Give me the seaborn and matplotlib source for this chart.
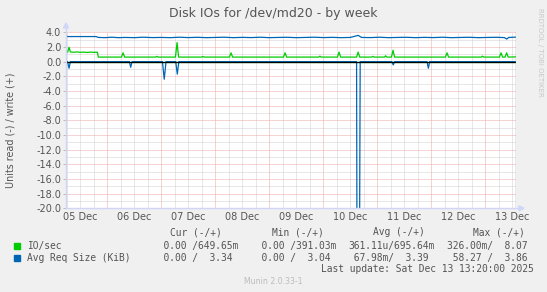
import numpy as np
import matplotlib
matplotlib.use("Agg")
import matplotlib.pyplot as plt
import matplotlib.patches as mpatches
from matplotlib.lines import Line2D
import seaborn as sns

# ---------------- data (hours since 05 Dec 00:00) ----------------
t_start, t_end = 5.64, 205.66
day_labels = ["05 Dec", "06 Dec", "07 Dec", "08 Dec", "09 Dec",
              "10 Dec", "11 Dec", "12 Dec", "13 Dec"]
y_ticks = [4, 2, 0, -2, -4, -6, -8, -10, -12, -14, -16, -18, -20]

# IO/sec write (+)
io_write_t = [5.64, 6.4, 6.98, 7.6, 9, 10.5, 12, 13.5, 15, 16.5, 18, 19.6, 20.0,
              30.3, 31, 31.7, 45.5, 46, 46.5, 54.3, 55, 55.7, 66, 66.5, 67,
              78.3, 79, 79.7, 102.3, 103, 103.7, 118, 118.5, 119,
              126.3, 127, 127.7, 134.8, 135.5, 136.2, 141.5, 142, 142.5,
              147.2, 147.7, 148.2, 150.3, 151, 151.7, 174.3, 175, 175.7,
              190.3, 190.8, 191.3, 198.3, 199, 199.7, 200.8, 201.5, 202.2, 205.66]
io_write_v = [1.30, 1.30, 1.96, 1.32, 1.28, 1.32, 1.27, 1.30, 1.25, 1.30, 1.27, 1.28, 0.62,
              0.62, 1.20, 0.62, 0.62, 0.72, 0.62, 0.62, 2.60, 0.62, 0.62, 0.70, 0.62,
              0.62, 1.20, 0.62, 0.62, 1.20, 0.62, 0.62, 0.75, 0.62,
              0.62, 1.30, 0.62, 0.62, 1.30, 0.62, 0.62, 0.72, 0.62,
              0.62, 0.80, 0.62, 0.62, 1.55, 0.62, 0.62, 1.20, 0.62,
              0.62, 0.75, 0.62, 0.62, 1.20, 0.62, 0.62, 1.20, 0.62, 0.65]
# IO/sec read (-)
io_read_t = [5.64, 205.66]
io_read_v = [0.0, 0.0]

# Avg Req Size write (+)
size_write_t = [5.64, 19, 20, 23, 26, 29, 32, 36, 40, 44, 48, 52, 56, 60, 64, 68, 72,
                76, 80, 84, 88, 92, 96, 100, 104, 108, 112, 116, 120, 124, 128, 132,
                135.5, 137, 141, 145, 149, 153, 157, 161, 165, 169, 173, 177, 181,
                185, 189, 193, 197, 200.5, 201.5, 202.5, 205.66]
size_write_v = [3.42, 3.42, 3.30, 3.27, 3.33, 3.27, 3.30, 3.27, 3.33, 3.28, 3.30, 3.27,
                3.33, 3.28, 3.32, 3.27, 3.30, 3.33, 3.27, 3.31, 3.28, 3.33, 3.27, 3.30,
                3.32, 3.27, 3.30, 3.33, 3.28, 3.31, 3.27, 3.30, 3.58, 3.30, 3.28, 3.33,
                3.27, 3.30, 3.32, 3.27, 3.31, 3.28, 3.33, 3.27, 3.30, 3.32, 3.27, 3.30,
                3.32, 3.28, 3.08, 3.30, 3.34]
# Avg Req Size read (-)
size_read_t = [5.64, 6.3, 6.98, 7.6, 33.8, 34.4, 35.0, 48.5, 49.3, 50.1, 54.4, 55.1, 55.8,
               134.8, 135.2, 136.0, 136.4, 150.5, 151.1, 151.7, 166.1, 166.7, 167.3, 205.66]
size_read_v = [0, 0, 0.9, 0, 0, 0.77, 0, 0, 2.4, 0, 0, 1.7, 0,
               0, 58.27, 35.0, 0, 0, 0.45, 0, 0, 0.9, 0, 0]

legend_names = ["IO/sec", "Avg Req Size (KiB)"]
legend_rows = [["  0.00 /649.65m", "  0.00 /391.03m", "361.11u/695.64m", "326.00m/  8.07 "],
               ["  0.00 /  3.34 ", "  0.00 /  3.04 ", " 67.98m/  3.39 ", " 58.27 /  3.86 "]]
legend_headers = ["Cur (-/+)", "Min (-/+)", "Avg (-/+)", "Max (-/+)"]

GREEN = "#00CC00"
BLUE = "#0066B3"
FONT = "#555555"
AXIS = "#CFD6F8"

W, H = 547, 292
fig = plt.figure(figsize=(W / 100, H / 100), dpi=100)
fig.patch.set_facecolor("#F0F0F0")

def fx(px):
    return px / W

def fy(py):
    return 1 - py / H

left, right, top, bottom = 66, 516, 32.3, 208.3
ax = fig.add_axes([fx(left), fy(bottom), (right - left) / W, (bottom - top) / H])
ax.set_facecolor("white")
ax.set_xlim(t_start, t_end)
ax.set_ylim(-20, 4)

# grid
for h in np.arange(6, 206, 6):
    if h % 24 == 0:
        continue
    ax.axvline(h, color="#D0D0D0", lw=0.72, ls=(0, (1, 1)), zorder=1)
for v in range(-19, 4, 2):
    ax.axhline(v, color="#D0D0D0", lw=0.72, ls=(0, (1, 1)), zorder=1)
for h in range(24, 205, 24):
    ax.axvline(h, color="#EFA8A8", lw=0.72, ls=(0, (1, 1)), zorder=1.5)
for v in y_ticks:
    if v not in (0, -20):
        ax.axhline(v, color="#EFA8A8", lw=0.72, ls=(0, (1, 1)), zorder=1.5)

# data
sns.lineplot(x=io_read_t, y=[-v for v in io_read_v], ax=ax, color=GREEN, lw=0.9, zorder=3)
sns.lineplot(x=io_write_t, y=io_write_v, ax=ax, color=GREEN, lw=0.9, zorder=3)
sns.lineplot(x=size_read_t, y=[-v for v in size_read_v], ax=ax, color=BLUE, lw=0.9, zorder=3)
sns.lineplot(x=size_write_t, y=size_write_v, ax=ax, color=BLUE, lw=0.9, zorder=3)
ax.axhline(0, color="black", lw=0.9, zorder=3.5)
ax.axvline(t_end, color="#999999", lw=1.0, zorder=4)

# axes
for s in ax.spines.values():
    s.set_visible(False)
ax.set_xlabel("")
ax.set_ylabel("")
ax.set_yticks(y_ticks)
ax.set_yticklabels([f"{v:.1f}" for v in y_ticks])
ax.set_xticks([12 + 24 * i for i in range(len(day_labels))])
ax.set_xticklabels(day_labels)
ax.tick_params(axis="y", length=2, width=0.7, color="#BBBBBB", pad=1.5,
               labelsize=7, labelcolor=FONT)
ax.tick_params(axis="x", length=0, pad=3, labelsize=7, labelcolor=FONT)

# axis lines with arrows
fig.add_artist(Line2D([fx(left), fx(left)], [fy(bottom), fy(27)], color=AXIS, lw=1.0))
fig.add_artist(Line2D([fx(left), fx(521)], [fy(bottom), fy(bottom)], color=AXIS, lw=1.0))
fig.add_artist(mpatches.Polygon([[fx(63.5), fy(28)], [fx(68.5), fy(28)], [fx(66), fy(23)]],
                                closed=True, color=AXIS, transform=fig.transFigure))
fig.add_artist(mpatches.Polygon([[fx(519), fy(bottom - 2.5)], [fx(519), fy(bottom + 2.5)],
                                 [fx(524), fy(bottom)]],
                                closed=True, color=AXIS, transform=fig.transFigure))

# texts
fig.text(fx(272.8), fy(13.5), "Disk IOs for /dev/md20 - by week", ha="center", va="center",
         fontsize=9, color=FONT)
fig.text(fx(11), fy(130), "Units read (-) / write (+)", rotation=90, ha="center", va="center",
         fontsize=6.9, color=FONT)
fig.text(fx(540), fy(8), "RRDTOOL / TOBI OETIKER", rotation=270, ha="center", va="top",
         fontsize=5, color="#C8C8C8")

mono = "DejaVu Sans Mono"
col_x = [151.8, 250.0, 348.3, 446.7]
hdr_x = [170, 271.7, 372.7, 473.3]
for x, hdr in zip(hdr_x, legend_headers):
    fig.text(fx(x), fy(232.3), hdr, family=mono, fontsize=6.9, color=FONT, ha="left", va="center")
row_y = [245.7, 258.0]
for name, color, y, row in zip(legend_names, [GREEN, BLUE], row_y, legend_rows):
    fig.add_artist(mpatches.Rectangle((fx(14), fy(y + 3)), 6 / W, 6 / H, color=color,
                                      transform=fig.transFigure))
    fig.text(fx(26.7), fy(y), name, family=mono, fontsize=6.9, color=FONT, ha="left", va="center")
    for x, s in zip(col_x, row):
        fig.text(fx(x), fy(y), s, family=mono, fontsize=6.9, color=FONT, ha="left", va="center")
fig.text(fx(533.3), fy(269.3), "Last update: Sat Dec 13 13:20:00 2025", family=mono,
         fontsize=6.9, color=FONT, ha="right", va="center")
fig.text(fx(273.7), fy(281), "Munin 2.0.33-1", fontsize=5.6, color="#BBBBBB",
         ha="center", va="center")

fig.savefig("out.png", dpi=100, facecolor=fig.get_facecolor())
